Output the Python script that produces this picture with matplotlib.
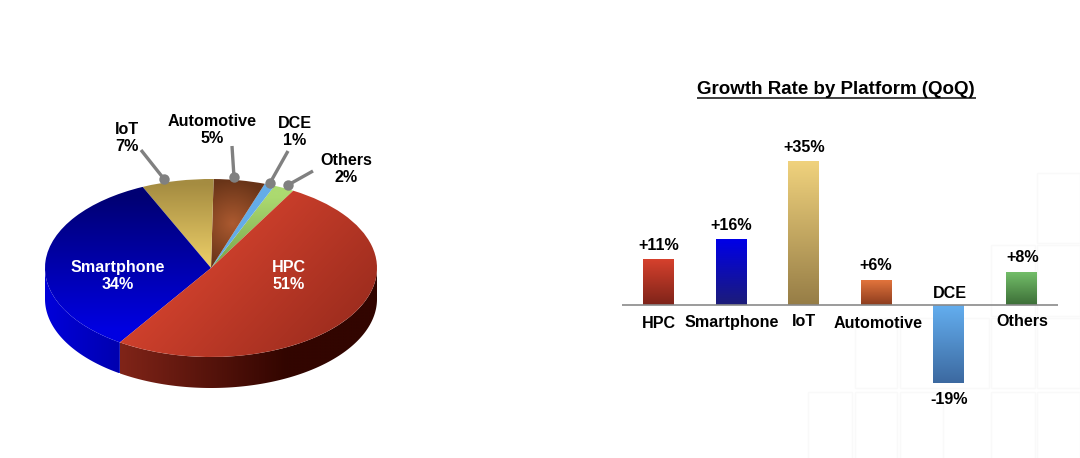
import numpy as np
import matplotlib
matplotlib.use("Agg")
import matplotlib.pyplot as plt
from matplotlib.path import Path
from matplotlib.patches import PathPatch, Rectangle

plt.rcParams["font.family"] = ["Liberation Sans", "DejaVu Sans"]

# ---- data ----
pie_labels = ["Others", "DCE", "Automotive", "IoT", "Smartphone", "HPC"]
pie_values = [2, 1, 5, 7, 34, 51]

bar_labels = ["HPC", "Smartphone", "IoT", "Automotive", "DCE", "Others"]
bar_values = [11, 16, 35, 6, -19, 8]
bar_text = ["+11%", "+16%", "+35%", "+6%", "-19%", "+8%"]
title = "Growth Rate by Platform (QoQ)"

W, H = 1080, 458
fig = plt.figure(figsize=(W / 100, H / 100), dpi=100, facecolor="white")


def px_axes(x0, y0, x1, y1, **kw):
    """Axes covering a pixel box (y measured from the top)."""
    ax = fig.add_axes([x0 / W, 1 - y1 / H, (x1 - x0) / W, (y1 - y0) / H], **kw)
    ax.axis("off")
    return ax


def rgb(c):
    return np.array(c, dtype=float) / 255


def shade(ax, patch, c0, c1, tfunc):
    """Fill a patch with a colour ramp, clipped to the patch."""
    xl, yl = ax.get_xlim(), ax.get_ylim()
    bb = patch.get_window_extent().transformed(ax.transData.inverted())
    xs = np.linspace(bb.x0, bb.x1, 200)
    ys = np.linspace(bb.y1, bb.y0, 200)
    xx, yy = np.meshgrid(xs, ys)
    t = np.clip(tfunc(xx, yy), 0, 1)[..., None]
    img = rgb(c0) * (1 - t) + rgb(c1) * t
    im = ax.imshow(img, extent=(bb.x0, bb.x1, bb.y0, bb.y1), aspect="auto",
                   interpolation="bilinear", zorder=patch.get_zorder())
    im.set_clip_path(patch)
    ax.set_xlim(xl)
    ax.set_ylim(yl)


# ---- faint background tiles ----
bg = px_axes(0, 0, W, H, zorder=0)
bg.set_xlim(0, W)
bg.set_ylim(H, 0)
tiles = [(808, 392, 44, 70), (855, 392, 42, 70), (900, 392, 43, 70), (991, 392, 44, 70),
         (1037, 392, 43, 70), (855, 318, 42, 70), (900, 318, 89, 70), (991, 318, 44, 70),
         (1037, 318, 43, 70), (991, 245, 44, 71), (1037, 245, 43, 71), (1037, 173, 43, 70)]
for tx, ty, tw, th in tiles:
    bg.add_patch(Rectangle((tx, ty), tw, th, fill=False, edgecolor="#f9f9f9", lw=1))

# ---- pie ----
# Unit circle maps to an ellipse of 166 x 89 px centred at (211, 268)
RX, RY, CX, CY = 166, 89, 211, 268
LIM_X, LIM_Y = 1.2, 1.5
pie_ax = px_axes(CX - LIM_X * RX, CY - LIM_Y * RY, CX + LIM_X * RX, CY + LIM_Y * RY, zorder=1)
wedges, _ = pie_ax.pie(pie_values, startangle=60.3, radius=1.0, center=(0, 0),
                       colors=["none"] * len(pie_values))
pie_ax.set_aspect("auto")
pie_ax.set_xlim(-LIM_X, LIM_X)
pie_ax.set_ylim(-LIM_Y, LIM_Y)
pie_ax.axis("off")
for w in wedges:
    w.set_linewidth(0)
    w.set_zorder(3)
DEPTH = 31 / RY

top_style = {
    "HPC": ((206, 64, 44), (136, 36, 24), lambda x, y: 0.534 * x - 0.268 * y + 0.066),
    "Smartphone": ((0, 0, 225), (0, 0, 115), lambda x, y: (y + 0.7) / 1.5),
    "IoT": ((238, 208, 105), (165, 140, 65), lambda x, y: y / 0.95),
    "Automotive": ((172, 90, 48), (104, 52, 24),
                   lambda x, y: np.hypot((x - 0.13) / 0.26, (y - 0.5) / 0.5)),
    "DCE": ((100, 172, 232), (100, 172, 232), lambda x, y: 0 * x),
    "Others": ((125, 170, 80), (172, 218, 112), lambda x, y: (y - 0.1) / 0.7),
}
wall_style = {
    "HPC": ((128, 36, 24), (50, 5, 0), lambda x, y: (x + 0.55) / 1.0),
    "Smartphone": ((0, 0, 218), (0, 0, 175), lambda x, y: (x + 1) / 0.45),
}

for name, w in zip(pie_labels, wedges):
    c0, c1, fn = top_style[name]
    shade(pie_ax, w, c0, c1, fn)
    a0, a1 = max(w.theta1, 180), min(w.theta2, 360)
    if a1 > a0 and name in wall_style:
        th = np.radians(np.linspace(a0, a1, 200))
        upper = np.column_stack([np.cos(th), np.sin(th)])
        lower = upper[::-1] - [0, DEPTH]
        verts = np.vstack([upper, lower, upper[:1]])
        codes = [Path.MOVETO] + [Path.LINETO] * (len(verts) - 2) + [Path.CLOSEPOLY]
        wall = PathPatch(Path(verts, codes), facecolor="none", lw=0, zorder=2)
        pie_ax.add_patch(wall)
        wc0, wc1, wfn = wall_style[name]
        shade(pie_ax, wall, wc0, wc1, wfn)

# ---- bars ----
PX_UNIT_X, PX_UNIT_Y, X0, Y0 = 72.5, 4.11, 658.5, 304.5
BL, BR, BT, BB = 622, 1058, 110, 440
bar_ax = px_axes(BL, BT, BR, BB, zorder=1)
bar_ax.set_xlim((BL - X0) / PX_UNIT_X, (BR - X0) / PX_UNIT_X)
bar_ax.set_ylim((Y0 - BB) / PX_UNIT_Y, (Y0 - BT) / PX_UNIT_Y)
positions = np.arange(len(bar_values))
bars = bar_ax.bar(positions, bar_values, width=31 / PX_UNIT_X, color="none", lw=0, zorder=3)
bar_colors = [((214, 65, 45), (125, 35, 25)),
              ((0, 0, 232), (28, 28, 120)),
              ((240, 210, 125), (150, 125, 70)),
              ((226, 116, 60), (140, 60, 30)),
              ((100, 175, 240), (60, 105, 160)),
              ((115, 190, 105), (60, 110, 55))]
for b, val, (c0, c1) in zip(bars, bar_values, bar_colors):
    lo, hi = min(val, 0), max(val, 0)
    shade(bar_ax, b, c0, c1, lambda x, y, hi=hi, lo=lo: (hi - y) / (hi - lo))
bar_ax.axhline(0, color="#8a8a8a", lw=1.2, zorder=4)

# ---- text and leader lines in pixel space ----
ov = px_axes(0, 0, W, H, zorder=5)
ov.set_xlim(0, W)
ov.set_ylim(H, 0)
FS = 11.6


def label(x, y, s, color="black", fs=FS):
    ov.text(x, y, s, ha="center", va="center", fontsize=fs, fontweight="bold",
            color=color, linespacing=1.22)


leaders = [((141, 150), (164, 179)), ((232, 146), (234, 177)),
           ((288, 151), (270, 183)), ((313, 171), (288, 185))]
for (x0, y0), (x1, y1) in leaders:
    ov.plot([x0, x1], [y0, y1], color="#808080", lw=2.4, solid_capstyle="butt")
    ov.plot([x1], [y1], "o", color="#808080", ms=7.5, mew=0)

pie_text = {"IoT": (127, 138, "black"), "Automotive": (212, 130, "black"),
            "DCE": (295, 132, "black"), "Others": (346, 169, "black"),
            "Smartphone": (118, 276, "white"), "HPC": (289, 276, "white")}
for name, val in zip(pie_labels, pie_values):
    x, y, col = pie_text[name]
    label(x, y, f"{name}\n{val}%", col)

cat_xy = [(659, 323), (732, 323), (804, 322), (878, 324), (950, 293), (1022, 321)]
val_xy = [(659, 245), (731, 225), (804, 147), (876, 266), (949, 400), (1023, 258)]
for s, (x, y) in zip(bar_labels, cat_xy):
    label(x, y, s)
for s, (x, y) in zip(bar_text, val_xy):
    label(x, y, s)

label(836, 89, title, fs=13.5)
ov.plot([697, 976], [97.5, 97.5], color="#303030", lw=1.3, solid_capstyle="butt")

fig.savefig("out.png", dpi=100, facecolor="white")
